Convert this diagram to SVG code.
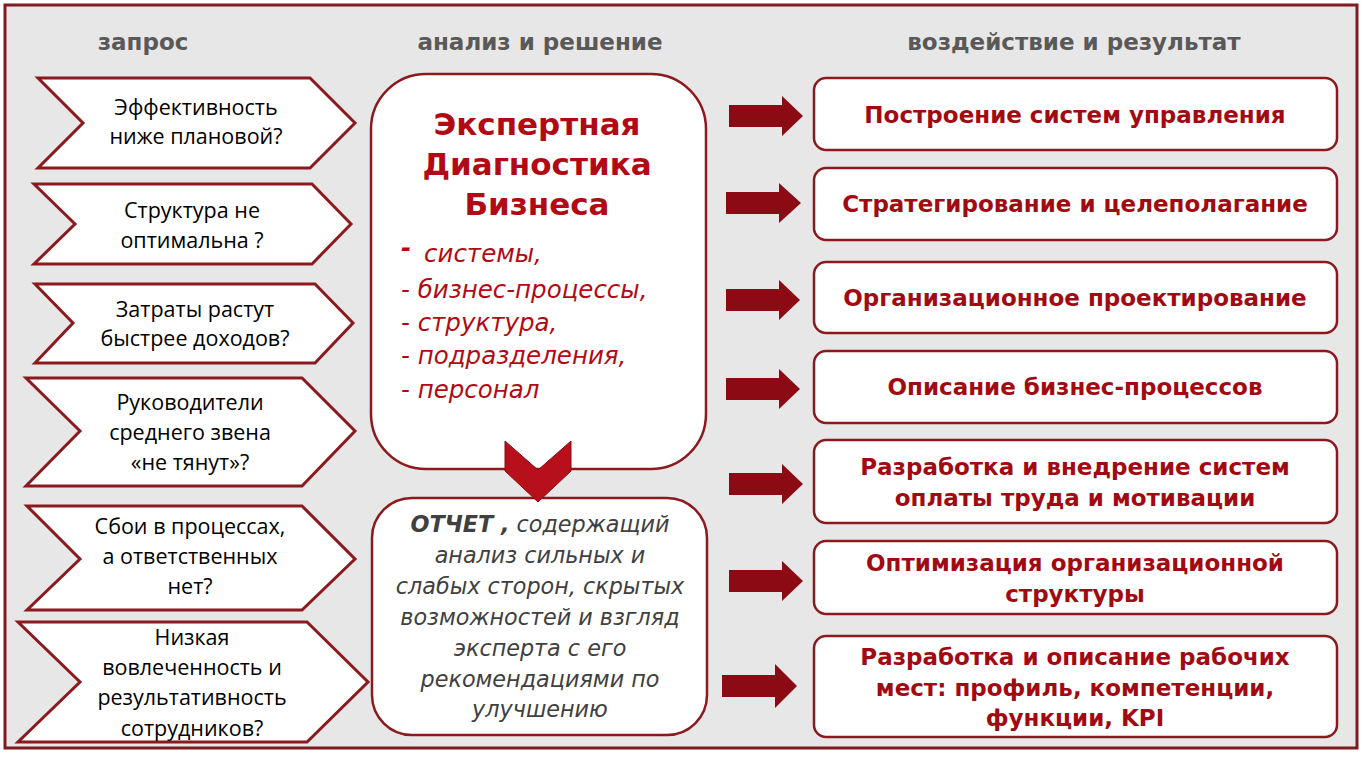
<svg xmlns="http://www.w3.org/2000/svg" width="1366" height="768" viewBox="0 0 1366 768">
<style>
.hdr{font-family:"DejaVu Sans",Verdana,sans-serif;font-weight:bold;font-size:23px;fill:#595959;text-anchor:middle}
.chev{fill:#fff;stroke:#8b1a1f;stroke-width:3;stroke-linejoin:miter}
.ct{font-family:"Open Sans","Liberation Sans",sans-serif;font-size:21.5px;fill:#000;text-anchor:middle}
.box{fill:#fff;stroke:#8b1a1f;stroke-width:2.5}
.rt{font-family:"DejaVu Sans",Verdana,sans-serif;font-weight:bold;font-size:23px;fill:#a20a12;text-anchor:middle}
.title{font-family:"DejaVu Sans",Verdana,sans-serif;font-weight:bold;font-size:31px;fill:#b20a14;text-anchor:middle}
.li{font-family:"DejaVu Sans",Verdana,sans-serif;font-style:italic;font-size:24.5px;fill:#b20a14}
.rep{font-family:"DejaVu Sans",Verdana,sans-serif;font-style:italic;font-size:22.3px;fill:#404040;text-anchor:middle}
.arr{fill:#8b0a14}
</style>
<rect x="0" y="0" width="1366" height="768" fill="#fff"/>
<rect x="5" y="5" width="1352" height="743" fill="#e7e7e7" stroke="#7f1a1f" stroke-width="3"/>
<g id="headers">
<text class="hdr" x="143" y="50">запрос</text>
<text class="hdr" x="540" y="50">анализ и решение</text>
<text class="hdr" x="1074" y="50">воздействие и результат</text>
</g>
<g id="q1"><polygon class="chev" points="38,78 310,78 355,123 310,168 38,168 83,123"/>
<text class="ct" x="196" y="115">Эффективность</text><text class="ct" x="196" y="144">ниже плановой?</text></g>
<g id="q2"><polygon class="chev" points="34,184 312,184 351,224 312,264 34,264 75,224"/>
<text class="ct" x="192" y="218">Структура не</text><text class="ct" x="192" y="248">оптимальна ?</text></g>
<g id="q3"><polygon class="chev" points="35,284 315,284 353,323 315,363 35,363 73,323"/>
<text class="ct" x="195" y="317">Затраты растут</text><text class="ct" x="195" y="346">быстрее доходов?</text></g>
<g id="q4"><polygon class="chev" points="26,378 302,378 355,431 302,486 26,486 80,431"/>
<text class="ct" x="190" y="410">Руководители</text><text class="ct" x="190" y="440">среднего звена</text><text class="ct" x="190" y="470">«не тянут»?</text></g>
<g id="q5"><polygon class="chev" points="27,506 302,506 355,559 302,610 27,610 80,559"/>
<text class="ct" x="190" y="534">Сбои в процессах,</text><text class="ct" x="190" y="564">а ответственных</text><text class="ct" x="190" y="594">нет?</text></g>
<g id="q6"><polygon class="chev" points="18,622 307,622 368,682 307,742 18,742 80,682"/>
<text class="ct" x="192" y="645">Низкая</text><text class="ct" x="192" y="675">вовлеченность и</text><text class="ct" x="192" y="705">результативность</text><text class="ct" x="192" y="736">сотрудников?</text></g>
<g id="diag">
<rect class="box" x="371" y="74" width="335" height="395" rx="55" ry="55" stroke-width="3"/>
<text class="title" x="537" y="135">Экспертная</text>
<text class="title" x="537" y="175">Диагностика</text>
<text class="title" x="537" y="215">Бизнеса</text>
<text class="li" x="401" y="256" font-size="32" font-style="normal" font-weight="bold">-</text>
<text class="li" x="424" y="262">системы,</text>
<text class="li" x="401" y="298">- бизнес-процессы,</text>
<text class="li" x="401" y="331">- структура,</text>
<text class="li" x="401" y="364">- подразделения,</text>
<text class="li" x="401" y="398">- персонал</text>
</g>
<g id="report">
<rect class="box" x="372" y="498" width="335" height="237" rx="40" ry="40" stroke-width="3"/>
<text class="rep" x="540" y="532"><tspan font-weight="bold">ОТЧЕТ ,</tspan> содержащий</text>
<text class="rep" x="540" y="563">анализ сильных и</text>
<text class="rep" x="540" y="594">слабых сторон, скрытых</text>
<text class="rep" x="540" y="625">возможностей и взгляд</text>
<text class="rep" x="540" y="656">эксперта с его</text>
<text class="rep" x="540" y="687">рекомендациями по</text>
<text class="rep" x="540" y="717">улучшению</text>
</g>
<g id="r1"><rect class="box" x="814" y="78" width="523" height="72" rx="12"/><text class="rt" x="1075" y="123">Построение систем управления</text></g>
<g id="r2"><rect class="box" x="814" y="168" width="523" height="72" rx="12"/><text class="rt" x="1075" y="212">Стратегирование и целеполагание</text></g>
<g id="r3"><rect class="box" x="814" y="262" width="523" height="71" rx="12"/><text class="rt" x="1075" y="306">Организационное проектирование</text></g>
<g id="r4"><rect class="box" x="814" y="351" width="523" height="72" rx="12"/><text class="rt" x="1075" y="395">Описание бизнес-процессов</text></g>
<g id="r5"><rect class="box" x="814" y="440" width="523" height="83" rx="12"/><text class="rt" x="1075" y="475">Разработка и внедрение систем</text><text class="rt" x="1075" y="506">оплаты труда и мотивации</text></g>
<g id="r6"><rect class="box" x="814" y="541" width="523" height="73" rx="12"/><text class="rt" x="1075" y="571">Оптимизация организационной</text><text class="rt" x="1075" y="602">структуры</text></g>
<g id="r7"><rect class="box" x="814" y="636" width="523" height="101" rx="12"/><text class="rt" x="1075" y="665">Разработка и описание рабочих</text><text class="rt" x="1075" y="696">мест: профиль, компетенции,</text><text class="rt" x="1075" y="726">функции, KPI</text></g>
<g id="connectors">
<polygon points="505,441 538,470 571,441 571,471 538,502 505,471" fill="#b8101a" stroke="#8b0a14" stroke-width="1"/>
<path class="arr" d="M729,105 H782 V96 L803,116 L782,136 V127 H729 Z"/>
<path class="arr" d="M726,192 H779 V183 L801,203 L779,223 V214 H726 Z"/>
<path class="arr" d="M726,289 H779 V280 L800,300 L779,320 V311 H726 Z"/>
<path class="arr" d="M726,378 H779 V369 L800,389 L779,409 V400 H726 Z"/>
<path class="arr" d="M729,473 H782 V464 L803,484 L782,504 V495 H729 Z"/>
<path class="arr" d="M729,570 H782 V561 L803,581 L782,601 V592 H729 Z"/>
<path class="arr" d="M722,675 H775 V664 L797,686 L775,708 V697 H722 Z"/>
</g>
</svg>
